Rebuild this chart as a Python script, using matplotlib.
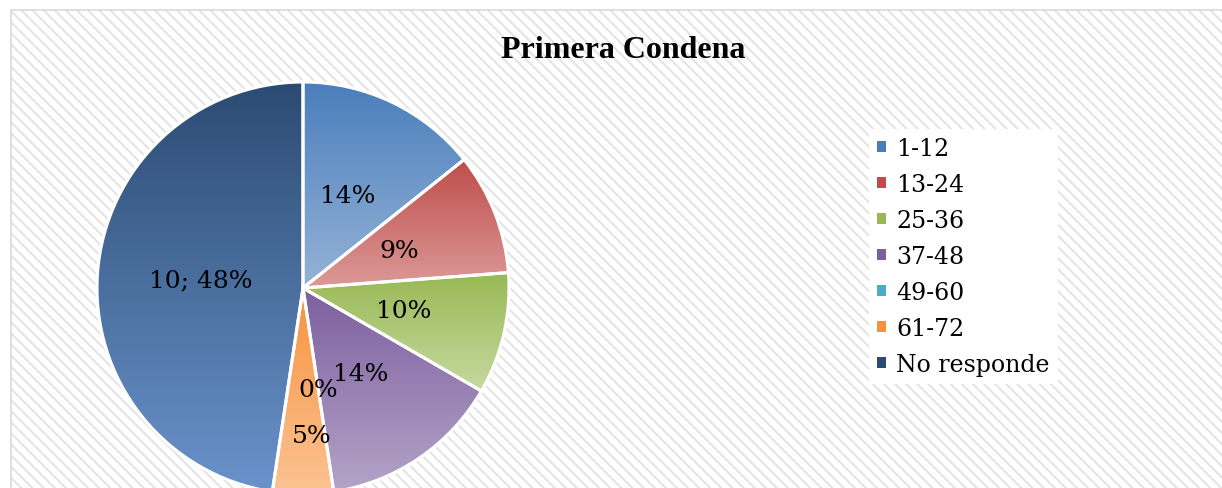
import matplotlib.pyplot as plt
import matplotlib.colors as mcolors
import numpy as np
from matplotlib.patches import Rectangle, Patch

# data
categories = ['1-12', '13-24', '25-36', '37-48', '49-60', '61-72', 'No responde']
counts = [3, 2, 2, 3, 0, 1, 10]
pct_shown = [14, 9, 10, 14, 0, 5, 48]

# top / bottom colours of each slice gradient
top_colors = ['#4a7ebb', '#bf4d4a', '#98b954', '#7d5f9f', '#4aacc5', '#f7923f', '#2b4b72']
bottom_colors = ['#95b3d7', '#dc9a98', '#c6d9a0', '#b4a4c8', '#9fd3e1', '#fbc392', '#6a93cb']

plt.rcParams['hatch.linewidth'] = 1.4

W, H = 1222, 489
fig = plt.figure(figsize=(W / 100, H / 100), dpi=100)

# hatched chart area + grey border (left and top only visible)
x0, y_top = 10.5 / W, 1 - 11 / H
fig.patches.append(Rectangle((x0, -0.02), 1.05 - x0, y_top + 0.02,
                             transform=fig.transFigure, facecolor='white',
                             edgecolor='#e3e3e3', linewidth=0, hatch='\\' * 3, zorder=-2))
fig.patches.append(Rectangle((x0, -0.02), 1.05 - x0, y_top + 0.02,
                             transform=fig.transFigure, facecolor='none',
                             edgecolor='#d9d9d9', linewidth=1.2, zorder=-1))

# pie axes: centre (303, 289) px from top, radius 206 px
cx, cy, r = 303, H - 289, 206
ax = fig.add_axes([(cx - r) / W, (cy - r) / H, 2 * r / W, 2 * r / H])

wedges, _ = ax.pie(counts, startangle=90, counterclock=False, radius=1,
                   colors=top_colors,
                   wedgeprops=dict(edgecolor='white', linewidth=2.2))

# vertical gradient inside every slice
for w, c0, c1, n in zip(wedges, top_colors, bottom_colors, counts):
    if n == 0:
        continue
    bb = w.get_path().get_extents()
    t = np.linspace(0, 1, 256)[:, None, None]
    a = np.array(mcolors.to_rgb(c0))[None, None, :]
    b = np.array(mcolors.to_rgb(c1))[None, None, :]
    img = a * (1 - t) + b * t
    im = ax.imshow(img, extent=[bb.x0, bb.x1, bb.y0, bb.y1], origin='upper',
                   aspect='auto', zorder=1, interpolation='bilinear')
    im.set_clip_path(w)
    w.set_facecolor('none')
    w.set_zorder(3)

ax.set_xlim(-1, 1)
ax.set_ylim(-1, 1)
ax.set_aspect('equal')
ax.axis('off')

# data labels
label_nudge = {5: (0.044, -0.214)}
for i, (w, n, p) in enumerate(zip(wedges, counts, pct_shown)):
    ang = np.deg2rad((w.theta1 + w.theta2) / 2)
    x, y = 0.5 * np.cos(ang), 0.5 * np.sin(ang)
    dx, dy = label_nudge.get(i, (0, 0))
    txt = f'{n}; {p}%' if categories[i] == 'No responde' else f'{p}%'
    ax.text(x + dx, y + dy, txt, ha='center', va='center', fontsize=18,
            family='DejaVu Serif', color='black', zorder=5)

fig.text(623 / W, 1 - 50 / H, 'Primera Condena', ha='center', va='center',
         fontsize=23, fontweight='bold', family='Liberation Serif')

handles = [Patch(facecolor=c, edgecolor='none') for c in top_colors]
leg = fig.legend(handles, categories, loc='upper left',
                 bbox_to_anchor=(869 / W, 1 - 130 / H),
                 prop={'family': 'DejaVu Serif', 'size': 17},
                 handlelength=0.35, handleheight=0.35, handletextpad=0.45,
                 labelspacing=0.55, borderpad=0.35, borderaxespad=0,
                 frameon=True, fancybox=False, edgecolor='none',
                 facecolor='white', framealpha=1)

fig.savefig('out.png', dpi=100)
